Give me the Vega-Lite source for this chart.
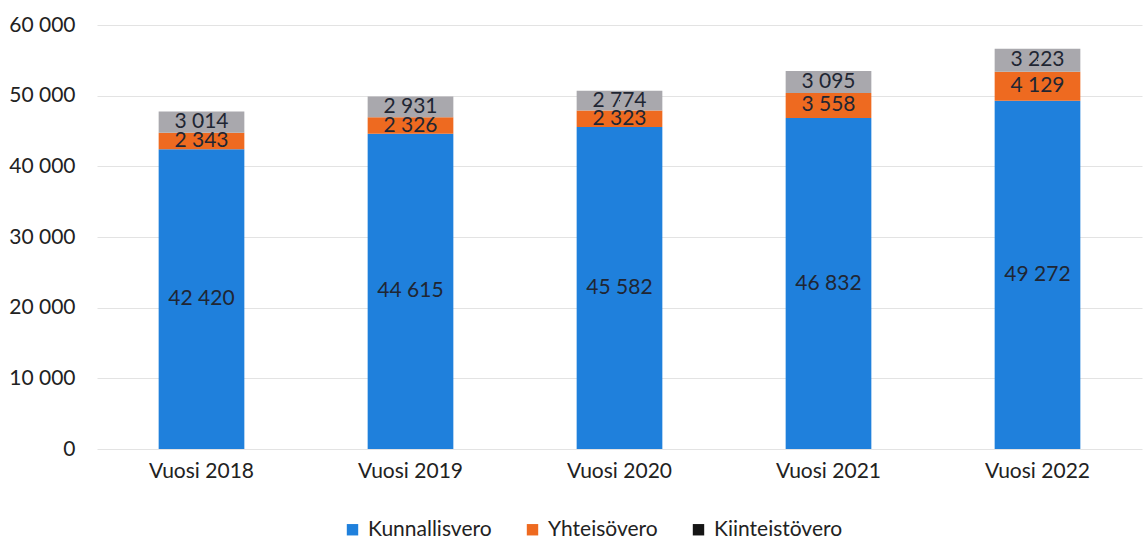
{
  "$schema": "https://vega.github.io/schema/vega-lite/v6.json",
  "autosize": {"type": "none"},
  "padding": {"left": 97, "top": 25, "right": 3, "bottom": 95},
  "width": 1045,
  "height": 424,
  "config": {
    "locale": {"number": {"decimal": ",", "thousands": " ", "grouping": [3], "currency": ["", " €"]}},
    "font": "Lato",
    "view": {"stroke": null}
  },
  "data": {"values": [
    {"vuosi": "Vuosi 2018", "vero": "Kunnallisvero", "o": 1, "arvo": 42420},
    {"vuosi": "Vuosi 2018", "vero": "Yhteisövero", "o": 2, "arvo": 2343},
    {"vuosi": "Vuosi 2018", "vero": "Kiinteistövero", "o": 3, "arvo": 3014},
    {"vuosi": "Vuosi 2019", "vero": "Kunnallisvero", "o": 1, "arvo": 44615},
    {"vuosi": "Vuosi 2019", "vero": "Yhteisövero", "o": 2, "arvo": 2326},
    {"vuosi": "Vuosi 2019", "vero": "Kiinteistövero", "o": 3, "arvo": 2931},
    {"vuosi": "Vuosi 2020", "vero": "Kunnallisvero", "o": 1, "arvo": 45582},
    {"vuosi": "Vuosi 2020", "vero": "Yhteisövero", "o": 2, "arvo": 2323},
    {"vuosi": "Vuosi 2020", "vero": "Kiinteistövero", "o": 3, "arvo": 2774},
    {"vuosi": "Vuosi 2021", "vero": "Kunnallisvero", "o": 1, "arvo": 46832},
    {"vuosi": "Vuosi 2021", "vero": "Yhteisövero", "o": 2, "arvo": 3558},
    {"vuosi": "Vuosi 2021", "vero": "Kiinteistövero", "o": 3, "arvo": 3095},
    {"vuosi": "Vuosi 2022", "vero": "Kunnallisvero", "o": 1, "arvo": 49272},
    {"vuosi": "Vuosi 2022", "vero": "Yhteisövero", "o": 2, "arvo": 4129},
    {"vuosi": "Vuosi 2022", "vero": "Kiinteistövero", "o": 3, "arvo": 3223}
  ]},
  "encoding": {
    "x": {"field": "vuosi", "type": "nominal", "sort": null,
      "scale": {"paddingInner": 0.59, "paddingOuter": 0.295},
      "axis": {"title": null, "labelAngle": 0, "ticks": false, "domain": false, "labelFontSize": 21, "labelColor": "#222", "labelPadding": 11}},
    "y": {"field": "arvo", "type": "quantitative", "stack": "zero",
      "scale": {"domain": [0, 60000]},
      "axis": {"title": null, "values": [0, 10000, 20000, 30000, 40000, 50000, 60000], "labelOverlap": false, "format": ",d", "ticks": false, "domain": false, "labelFontSize": 21, "labelColor": "#222", "labelPadding": 22, "gridColor": "#e3e3e3"}},
    "order": {"field": "o", "type": "quantitative"}
  },
  "resolve": {"scale": {"color": "independent", "fill": "independent"}, "legend": {"color": "independent", "fill": "independent"}},
  "layer": [
    {"mark": {"type": "bar"},
      "encoding": {
        "color": {"field": "vero", "type": "nominal",
          "scale": {"domain": ["Kunnallisvero", "Yhteisövero", "Kiinteistövero"], "range": ["#1f80dc", "#ee6a20", "#a9a8ad"]},
          "legend": null
        }
      }
    },
    {"mark": {"type": "square", "size": 1, "opacity": 1},
      "encoding": {
        "y": {"field": "arvo", "type": "quantitative", "stack": "zero", "bandPosition": 0.5},
        "fill": {"field": "vero", "type": "nominal",
          "scale": {"domain": ["Kunnallisvero", "Yhteisövero", "Kiinteistövero"], "range": ["#1f80dc", "#ee6a20", "#151515"]},
          "legend": {"title": null, "orient": "none", "legendX": 245, "legendY": 494, "direction": "horizontal", "symbolType": "square", "symbolSize": 130, "symbolStrokeWidth": 0, "labelFontSize": 21, "labelColor": "#222", "columnPadding": 30, "labelOffset": 5}
        }
      }
    },
    {"mark": {"type": "text", "fontSize": 21, "color": "#1f2633"},
      "encoding": {
        "y": {"field": "arvo", "type": "quantitative", "stack": "zero", "bandPosition": 0.5},
        "text": {"field": "arvo", "type": "quantitative", "format": ",d"}
      }
    }
  ]
}
